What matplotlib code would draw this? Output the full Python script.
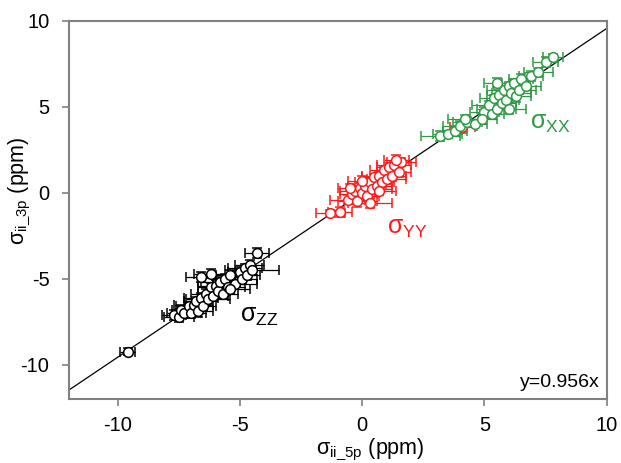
import numpy as np
import matplotlib.pyplot as plt

plt.rcParams['font.family'] = ['Liberation Sans', 'DejaVu Sans']
plt.rcParams['mathtext.fontset'] = 'custom'
plt.rcParams['mathtext.rm'] = 'Liberation Sans'
plt.rcParams['axes.unicode_minus'] = False

# sigma_zz (black)
zz_x = [-9.6, -7.7, -7.5, -7.4, -7.3, -7.1, -7.0, -6.9, -6.8, -6.7, -6.6, -6.5,
        -6.4, -6.3, -6.2, -6.1, -6.0, -5.9, -5.8, -5.7, -5.6, -5.5, -5.4, -5.2,
        -5.0, -4.9, -4.8, -4.7, -4.6, -4.5, -4.3, -6.6, -6.2, -5.4]
zz_y = [-9.25, -7.1, -7.2, -6.8, -7.0, -6.6, -7.0, -6.5, -6.3, -6.9, -6.1, -6.6,
        -5.9, -6.2, -5.5, -6.0, -5.4, -5.7, -5.2, -5.9, -5.0, -5.5, -4.8, -5.3,
        -4.6, -5.0, -4.4, -4.8, -4.2, -4.5, -3.5, -4.9, -4.7, -5.6]
zz_xerr = [0.3, 0.5, 0.6, 0.4, 0.7, 0.5, 0.6, 0.8, 0.5, 0.6, 0.7, 0.5,
           0.6, 0.9, 0.5, 0.6, 0.7, 0.5, 0.8, 0.6, 0.5, 0.7, 0.6, 0.9,
           0.5, 0.6, 0.7, 0.5, 0.6, 1.1, 0.5, 0.6, 0.7, 0.8]
zz_yerr = [0.2, 0.3, 0.3, 0.25, 0.3, 0.2, 0.3, 0.3, 0.25, 0.3, 0.3, 0.2,
           0.3, 0.3, 0.25, 0.3, 0.3, 0.2, 0.3, 0.3, 0.25, 0.3, 0.3, 0.2,
           0.3, 0.3, 0.25, 0.3, 0.3, 0.2, 0.3, 0.3, 0.25, 0.3]

# sigma_yy (red)
yy_x = [-1.3, -0.9, -0.6, -0.4, -0.3, -0.2, -0.1, 0.0, 0.1, 0.2, 0.3, 0.4,
        0.5, 0.6, 0.7, 0.8, 0.9, 1.0, 1.1, 1.2, 1.3, 1.5, 1.6, 0.3, -0.5,
        0.0, 0.7, 1.4, 4.1]
yy_y = [-1.2, -1.1, -0.4, -0.1, 0.1, -0.5, 0.3, 0.0, 0.4, -0.2, 0.6, 0.2,
        0.9, 0.4, 1.0, 0.6, 1.3, 0.8, 1.5, 1.0, 1.6, 1.2, 1.8, -0.6, 0.3,
        0.7, 0.1, 1.9, 3.8]
yy_xerr = [0.6, 0.5, 0.7, 0.5, 0.6, 0.8, 0.5, 0.6, 0.7, 0.5, 0.6, 0.8,
           0.5, 0.6, 0.7, 0.5, 0.6, 0.8, 0.5, 0.6, 0.7, 0.5, 0.6, 0.9, 0.5,
           0.6, 0.7, 0.5, 0.5]
yy_yerr = [0.2, 0.3, 0.25, 0.3, 0.2, 0.3, 0.25, 0.3, 0.2, 0.3, 0.25, 0.3,
           0.2, 0.3, 0.25, 0.3, 0.2, 0.3, 0.25, 0.3, 0.2, 0.3, 0.25, 0.3, 0.2,
           0.3, 0.25, 0.3, 0.3]

# sigma_xx (green)
xx_x = [3.2, 3.5, 3.8, 4.0, 4.3, 4.6, 5.0, 5.2, 5.3, 5.4, 5.5, 5.6, 5.7, 5.8,
        5.9, 6.0, 6.1, 6.2, 6.3, 6.4, 6.5, 6.7, 6.9, 7.2, 7.5, 7.8, 6.0, 5.5,
        4.9, 4.2]
xx_y = [3.3, 3.4, 3.6, 3.9, 4.1, 4.0, 4.7, 5.1, 4.6, 5.5, 4.9, 5.7, 5.2, 6.0,
        5.4, 6.2, 5.8, 6.4, 5.6, 6.0, 6.6, 6.2, 6.8, 7.0, 7.6, 7.9, 4.9, 6.4,
        4.3, 4.3]
xx_xerr = [0.8, 0.6, 0.5, 0.7, 0.6, 0.5, 0.6, 0.7, 0.5, 0.6, 0.8, 0.5, 0.6,
           0.7, 0.5, 0.6, 0.8, 0.5, 0.6, 0.7, 0.5, 0.6, 0.5, 0.6, 0.5, 0.4,
           0.7, 0.5, 0.6, 0.7]
xx_yerr = [0.3, 0.2, 0.3, 0.25, 0.3, 0.2, 0.3, 0.25, 0.3, 0.2, 0.3, 0.25,
           0.3, 0.2, 0.3, 0.25, 0.3, 0.2, 0.3, 0.25, 0.3, 0.2, 0.3, 0.25, 0.3,
           0.2, 0.3, 0.25, 0.3, 0.2]

slope = 0.956

fig = plt.figure(figsize=(6.21, 4.63), dpi=100)
ax = fig.add_axes([0.111, 0.138, 0.866, 0.817])

line_x = np.array([-12, 10])
ax.plot(line_x, slope * line_x, color='black', lw=0.9, zorder=1)

for xs, ys, xe, ye, col in [(zz_x, zz_y, zz_xerr, zz_yerr, 'black'),
                            (yy_x, yy_y, yy_xerr, yy_yerr, '#ff1a1a'),
                            (xx_x, xx_y, xx_xerr, xx_yerr, '#2f9a45')]:
    ax.errorbar(xs, ys, xerr=xe, yerr=ye, fmt='o', ms=7, mfc='white',
                mec=col, mew=1.1, ecolor=col, elinewidth=0.9, capsize=3.5,
                capthick=0.9, zorder=2)

ax.text(-5.0, -7.5, r'σ$_{\rm ZZ}$', fontsize=18, color='black')
ax.text(1.0, -2.4, r'σ$_{\rm YY}$', fontsize=18, color='#ff1a1a')
ax.text(6.85, 3.7, r'σ$_{\rm XX}$', fontsize=18, color='#2f9a45')
ax.text(9.7, -11.5, 'y=0.956x', fontsize=14, ha='right', va='bottom')

ax.set_xlim(-12, 10)
ax.set_ylim(-12, 10)
ax.set_xticks([-10, -5, 0, 5, 10])
ax.set_yticks([-10, -5, 0, 5, 10])
for s in ax.spines.values():
    s.set_color('#808080')
    s.set_linewidth(1.5)
ax.tick_params(direction='out', length=5, width=1.2, color='#808080',
               labelsize=14.5)
ax.tick_params(axis='x', pad=7)
ax.tick_params(axis='y', pad=9)

ax.set_xlabel(r'σ$_{\rm ii\_5p}$ (ppm)', fontsize=15.5)
ax.set_ylabel(r'σ$_{\rm ii\_3p}$ (ppm)', fontsize=15.5)
ax.xaxis.set_label_coords(0.56, -0.1)
ax.yaxis.set_label_coords(-0.067, 0.55)

fig.savefig('out.png', dpi=100)
